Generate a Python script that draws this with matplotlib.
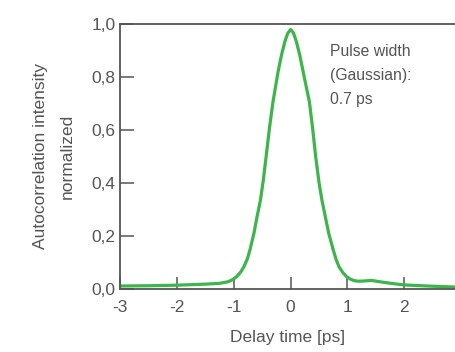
import matplotlib.pyplot as plt

plt.rcParams['font.family'] = ['Liberation Sans', 'DejaVu Sans']
plt.rcParams['axes.unicode_minus'] = False

# delay time [ps] and normalized autocorrelation
delay = [-3.0, -2.5, -2.0, -1.5, -1.25, -1.10, -1.02, -0.95, -0.88, -0.82,
         -0.76, -0.715, -0.645, -0.59, -0.53, -0.48, -0.43, -0.37, -0.31, -0.27,
         -0.22, -0.16, -0.10, -0.05, 0.0, 0.05, 0.10, 0.16, 0.22, 0.28,
         0.33, 0.39, 0.44, 0.50, 0.55, 0.61, 0.67, 0.75, 0.80, 0.85,
         0.92, 0.985, 1.05, 1.12, 1.20, 1.30, 1.42, 1.60, 1.80, 2.00,
         2.40, 2.90]
intensity = [0.010, 0.011, 0.013, 0.017, 0.020, 0.026, 0.034, 0.045, 0.062, 0.083,
             0.113, 0.146, 0.209, 0.272, 0.335, 0.410, 0.500, 0.610, 0.706, 0.757,
             0.820, 0.883, 0.934, 0.965, 0.979, 0.966, 0.934, 0.883, 0.820, 0.757,
             0.706, 0.600, 0.500, 0.400, 0.335, 0.272, 0.209, 0.146, 0.110, 0.083,
             0.060, 0.045, 0.036, 0.030, 0.028, 0.029, 0.031, 0.025, 0.019, 0.014,
             0.010, 0.006]

xticks = [-3, -2, -1, 0, 1, 2]
yticks = [0.0, 0.2, 0.4, 0.6, 0.8, 1.0]
ytick_labels = ['0,0', '0,2', '0,4', '0,6', '0,8', '1,0']

text_color = '#555555'
spine_color = '#555555'

fig = plt.figure(figsize=(4.55, 3.52), dpi=100)
ax = fig.add_axes([0.2637, 0.180, 0.7363, 0.752])

ax.plot(delay, intensity, color='#3cb54a', linewidth=2.3,
        solid_capstyle='round', solid_joinstyle='round')

ax.set_xlim(-3, 2.89)
ax.set_ylim(0, 1.0)
ax.set_xticks(xticks)
ax.set_xticklabels([str(t) for t in xticks])
ax.set_yticks(yticks)
ax.set_yticklabels(ytick_labels)

ax.tick_params(direction='in', length=10, width=1.1, color=spine_color,
               labelsize=12.5, labelcolor=text_color, pad=3)
ax.tick_params(axis='x', length=9, pad=8)

ax.spines['right'].set_visible(False)
for side in ['left', 'bottom', 'top']:
    ax.spines[side].set_color(spine_color)
    ax.spines[side].set_linewidth(1.3)

ax.set_xlabel('Delay time [ps]', fontsize=12.5, color=text_color, labelpad=11)
ax.set_ylabel('Autocorrelation intensity\nnormalized', fontsize=12.5,
              color=text_color, labelpad=12, linespacing=2.0)

ax.text(0.69, 0.925, 'Pulse width\n(Gaussian):\n0.7 ps', fontsize=11.3,
        color=text_color, va='top', ha='left', linespacing=1.75)

fig.savefig('out.png', dpi=100)
